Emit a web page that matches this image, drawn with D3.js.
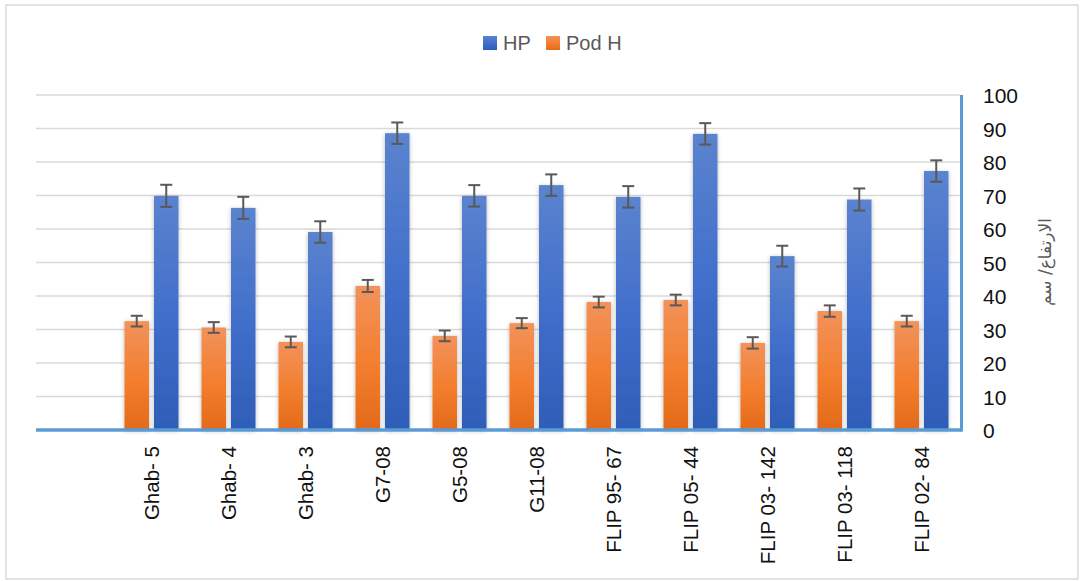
<!DOCTYPE html>
<html>
<head>
<meta charset="utf-8">
<script src="https://cdn.jsdelivr.net/npm/d3@7"></script>
<style>
  html, body { margin: 0; padding: 0; background: #fff; }
  svg { display: block; }
</style>
</head>
<body>
<svg id="chart" width="1084" height="581"></svg>
<script>
// ---- data ----
const categories = ["Ghab- 5", "Ghab- 4", "Ghab- 3", "G7-08", "G5-08", "G11-08",
  "FLIP 95- 67", "FLIP 05- 44", "FLIP 03- 142", "FLIP 03- 118", "FLIP 02- 84"];
const seriesNames = ["Pod H", "HP"];
const podH    = [32.5, 30.6, 26.3, 43.0, 28.1, 31.9, 38.2, 38.8, 26.0, 35.5, 32.5];
const podHErr = [1.6, 1.6, 1.6, 1.8, 1.6, 1.5, 1.6, 1.6, 1.7, 1.7, 1.6];
const hp      = [69.9, 66.3, 59.1, 88.6, 69.9, 73.1, 69.6, 88.4, 51.9, 68.8, 77.3];
const hpErr   = [3.3, 3.3, 3.2, 3.2, 3.2, 3.2, 3.2, 3.2, 3.1, 3.3, 3.2];
const yTicks  = [0, 10, 20, 30, 40, 50, 60, 70, 80, 90, 100];
const yTitle  = "الارتفاع/ سم";
const legendOrder = ["HP", "Pod H"];

const svg = d3.select("#chart");

// outer chart border
svg.append("rect").attr("x", 6).attr("y", 5).attr("width", 1072).attr("height", 574)
  .attr("fill", "#fff").attr("stroke", "#D9D9D9").attr("stroke-width", 1.5);

const defs = svg.append("defs");
function grad(id, stops) {
  const g = defs.append("linearGradient").attr("id", id)
    .attr("x1", 0).attr("y1", 0).attr("x2", 0).attr("y2", 1);
  stops.forEach(s => g.append("stop").attr("offset", s[0]).attr("stop-color", s[1]));
}
grad("gOrange", [[0, "#F2925A"], [0.55, "#F37E2E"], [1, "#E26A19"]]);
grad("gBlue", [[0, "#5B83CE"], [0.5, "#416FCB"], [1, "#2E5DB7"]]);
const f = defs.append("filter").attr("id", "shadow")
  .attr("x", "-30%").attr("y", "-10%").attr("width", "160%").attr("height", "120%");
f.append("feDropShadow").attr("dx", 0).attr("dy", 1).attr("stdDeviation", 2.2)
  .attr("flood-color", "#000").attr("flood-opacity", 0.28);

const fills = { "Pod H": "url(#gOrange)", "HP": "url(#gBlue)" };
const values = { "Pod H": podH, "HP": hp };
const errs = { "Pod H": podHErr, "HP": hpErr };

// scales (first band slot is left empty, as in the original)
const plotL = 36, plotR = 960, plotT = 95, plotB = 430;
const x0 = d3.scaleBand().domain(["__blank__", ...categories]).range([plotL, plotR]).padding(0);
const y = d3.scaleLinear().domain([0, 100]).range([plotB, plotT]);
const groupW = 54;
const x1 = d3.scaleBand().domain(seriesNames).range([-groupW / 2, groupW / 2]).paddingInner(0.17);

// gridlines
svg.append("g").selectAll("line").data(yTicks.filter(t => t > 0)).join("line")
  .attr("x1", plotL).attr("x2", plotR)
  .attr("y1", d => y(d)).attr("y2", d => y(d))
  .attr("stroke", "#D9D9D9").attr("stroke-width", 1.5);

// bars
const groups = svg.append("g").selectAll("g").data(categories).join("g")
  .attr("transform", d => `translate(${x0(d) + x0.bandwidth() / 2},0)`);

seriesNames.forEach(s => {
  groups.append("rect")
    .attr("x", x1(s))
    .attr("width", x1.bandwidth())
    .attr("y", (d, i) => y(values[s][i]))
    .attr("height", (d, i) => y(0) - y(values[s][i]))
    .attr("fill", fills[s])
    .attr("filter", "url(#shadow)");
});

// error bars
seriesNames.forEach(s => {
  const eb = groups.append("g").attr("stroke", "#595959").attr("stroke-width", 2);
  const cx = x1(s) + x1.bandwidth() / 2;
  eb.append("line").attr("x1", cx).attr("x2", cx)
    .attr("y1", (d, i) => y(values[s][i] + errs[s][i]))
    .attr("y2", (d, i) => y(values[s][i] - errs[s][i]));
  [1, -1].forEach(sign => {
    eb.append("line").attr("x1", cx - 6).attr("x2", cx + 6)
      .attr("y1", (d, i) => y(values[s][i] + sign * errs[s][i]))
      .attr("y2", (d, i) => y(values[s][i] + sign * errs[s][i]));
  });
});

// axis lines
svg.append("line").attr("x1", plotL).attr("x2", plotR + 2)
  .attr("y1", plotB).attr("y2", plotB)
  .attr("stroke", "#5B9BD5").attr("stroke-width", 3.5);
svg.append("line").attr("x1", plotR + 1.5).attr("x2", plotR + 1.5)
  .attr("y1", plotT).attr("y2", plotB + 1.5)
  .attr("stroke", "#5B9BD5").attr("stroke-width", 3);

// right y axis labels
const yAxis = d3.axisRight(y).tickValues(yTicks).tickSize(0).tickPadding(21);
const ya = svg.append("g").attr("transform", `translate(${plotR + 2},0)`).call(yAxis);
ya.select(".domain").remove();
ya.selectAll("text").attr("font-family", "Liberation Sans, Arial, sans-serif")
  .attr("font-size", 21).attr("fill", "#111").attr("dy", "0.36em");

// x labels (rotated)
const xAxis = d3.axisBottom(x0).tickSize(0).tickFormat(d => d === "__blank__" ? "" : d);
const xa = svg.append("g").attr("transform", `translate(0,${plotB})`).call(xAxis);
xa.select(".domain").remove();
xa.selectAll("text")
  .attr("font-family", "Liberation Sans, Arial, sans-serif")
  .attr("font-size", 20.5).attr("fill", "#111")
  .attr("transform", "rotate(-90)")
  .attr("text-anchor", "end")
  .attr("x", -16).attr("y", 0).attr("dy", "0.36em");

// y axis title
svg.append("text")
  .attr("transform", "translate(1051,262) rotate(-90)")
  .attr("text-anchor", "middle")
  .attr("font-family", "DejaVu Sans, Noto Sans, sans-serif")
  .attr("font-size", 17).attr("fill", "#595959")
  .text(yTitle);

// legend
const legX = { "HP": 483, "Pod H": 546 };
const leg = svg.append("g").selectAll("g").data(legendOrder).join("g")
  .attr("transform", d => `translate(${legX[d]},36)`);
leg.append("rect").attr("width", 14).attr("height", 14).attr("fill", d => fills[d]);
leg.append("text").attr("x", 20).attr("y", 7).attr("dy", "0.36em")
  .attr("font-family", "Liberation Sans, Arial, sans-serif")
  .attr("font-size", 20).attr("fill", "#595959").text(d => d);
</script>
</body>
</html>
